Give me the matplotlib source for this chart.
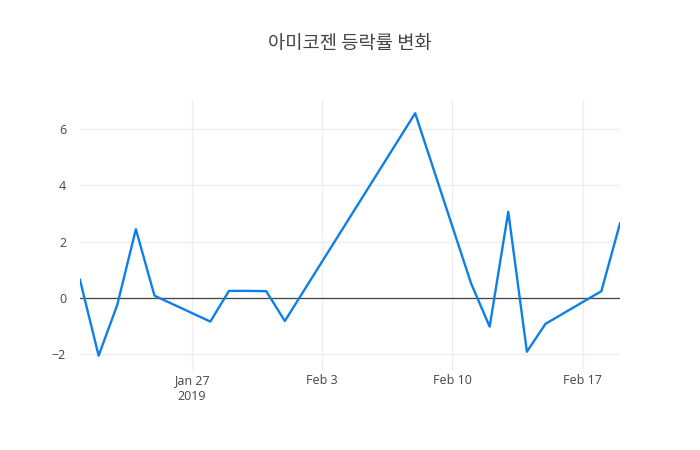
import numpy as np
import pandas as pd
import matplotlib
matplotlib.use("Agg")
import matplotlib.pyplot as plt
import matplotlib.dates as mdates

plt.rcParams['font.family'] = ['Open Sans', 'Noto Sans CJK KR', 'DejaVu Sans']

dates = ["2019-01-21", "2019-01-22", "2019-01-23", "2019-01-24", "2019-01-25",
         "2019-01-28", "2019-01-29", "2019-01-30", "2019-01-31", "2019-02-01",
         "2019-02-08", "2019-02-11", "2019-02-12", "2019-02-13", "2019-02-14",
         "2019-02-15", "2019-02-18", "2019-02-19"]
change = [0.64, -2.05, -0.25, 2.44, 0.08,
          -0.84, 0.25, 0.25, 0.24, -0.82,
          6.56, 0.52, -1.02, 3.06, -1.91,
          -0.92, 0.24, 2.65]
title = "아미코젠 등락률 변화"

x = pd.to_datetime(dates)

fig = plt.figure(figsize=(7, 4.5), dpi=100)
ax = fig.add_axes([80/700, 80/450, 540/700, 270/450])

ax.plot(x, change, color="#0f7fe8", lw=1.7, zorder=3)
ax.axhline(0, color="#444444", lw=0.9, zorder=2)

ax.set_xlim(x[0], x[-1])
ax.set_ylim(-2.56, 7.03)
ax.set_yticks([-2, 0, 2, 4, 6])
ax.set_yticklabels(["\u22122", "0", "2", "4", "6"])
ticks = pd.to_datetime(["2019-01-27", "2019-02-03", "2019-02-10", "2019-02-17"])
ax.set_xticks(ticks)
ax.set_xticklabels(["Jan 27\n2019", "Feb 3", "Feb 10", "Feb 17"])

ax.grid(True, color="#eeeeee", lw=1, zorder=0)
for s in ax.spines.values():
    s.set_visible(False)
ax.tick_params(length=0, labelsize=9, colors="#444444", pad=3)
ax.tick_params(axis="y", pad=10)
for lab in ax.get_xticklabels():
    lab.set_linespacing(1.25)

fig.text(0.5, 1 - 44/450, title, ha="center", va="center", fontsize=13.5,
         color="#444444", family=["Noto Sans CJK KR", "DejaVu Sans"])

fig.savefig("out.png", dpi=100)
